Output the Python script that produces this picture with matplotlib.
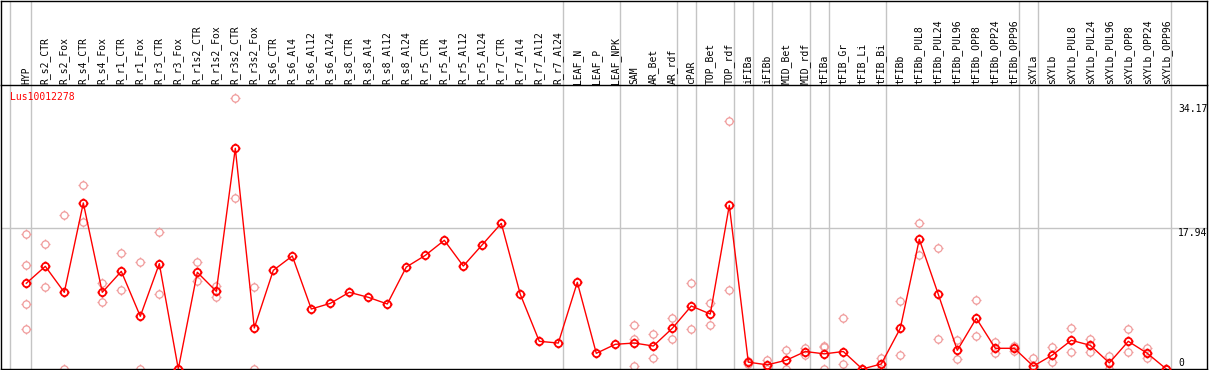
import matplotlib
matplotlib.use('Agg')
import matplotlib.pyplot as plt
from matplotlib.path import Path

# ---------------- data ----------------
categories = [
    "HYP",
    "R_s2_CTR", "R_s2_Fox", "R_s4_CTR", "R_s4_Fox", "R_r1_CTR", "R_r1_Fox",
    "R_r3_CTR", "R_r3_Fox", "R_r1s2_CTR", "R_r1s2_Fox", "R_r3s2_CTR", "R_r3s2_Fox",
    "R_s6_CTR", "R_s6_Al4", "R_s6_Al12", "R_s6_Al24",
    "R_s8_CTR", "R_s8_Al4", "R_s8_Al12", "R_s8_Al24",
    "R_r5_CTR", "R_r5_Al4", "R_r5_Al12", "R_r5_Al24",
    "R_r7_CTR", "R_r7_Al4", "R_r7_Al12", "R_r7_Al24",
    "LEAF_N", "LEAF_P", "LEAF_NPK",
    "SAM", "AR_Bet", "AR_rdf", "cPAR", "TOP_Bet", "TOP_rdf",
    "iFIBa", "iFIBb", "MID_Bet", "MID_rdf",
    "tFIBa", "tFIB_Gr", "tFIB_Li", "tFIB_Bi", "tFIBb",
    "tFIBb_PUL8", "tFIBb_PUL24", "tFIBb_PUL96", "tFIBb_OPP8", "tFIBb_OPP24", "tFIBb_OPP96",
    "sXYLa", "sXYLb",
    "sXYLb_PUL8", "sXYLb_PUL24", "sXYLb_PUL96", "sXYLb_OPP8", "sXYLb_OPP24", "sXYLb_OPP96",
]

means = [
    10.93, 13.09, 9.78, 21.17, 9.78, 12.45, 6.72, 13.43, 0.0, 12.33,
    9.90, 28.14, 5.23, 12.58, 14.41, 7.65, 8.37, 9.78, 9.14, 8.29,
    13.00, 14.49, 16.41, 13.13, 15.85, 18.57, 9.52, 3.53, 3.31, 11.05,
    2.00, 3.15, 3.31, 2.93, 5.19, 8.03, 7.01, 20.87, 0.87, 0.53,
    1.12, 2.23, 1.93, 2.23, 0.0, 0.64, 5.19, 16.54, 9.52, 2.38,
    6.46, 2.64, 2.64, 0.36, 1.77, 3.66, 3.02, 0.78, 3.53, 2.00,
    0.0,
]

replicates = [
    [17.17, 13.26, 8.25, 5.06], [15.90, 10.42], [19.60, 0.0], [23.42, 18.78],
    [10.93, 8.50], [14.75, 10.03], [13.60, 0.0], [17.43, 9.52], [0.0, 0.0],
    [13.60, 11.18], [10.62, 9.22], [34.51, 21.76], [10.42, 0.0],
    [], [], [], [], [], [], [], [], [], [], [], [], [], [], [], [], [], [], [],
    [5.61, 3.82, 0.38], [4.42, 1.44], [6.46, 3.78], [10.93, 5.06], [8.42, 5.57],
    [31.66, 10.03], [1.06, 0.64], [1.15, 0.0], [2.38, 0.0], [2.72, 1.79],
    [2.93, 2.80, 0.0], [6.46, 0.60], [0.0, 0.0], [1.44, 0.0], [8.63, 1.80],
    [18.57, 14.49], [15.38, 3.78], [3.66, 1.23], [8.76, 4.17], [3.40, 2.00],
    [2.89, 2.34], [1.44, 0.0], [2.85, 0.85], [5.27, 2.21], [3.78, 2.13],
    [1.66, 0.0], [5.06, 2.21], [2.64, 1.44], [0.0, 0.0],
]

group_ends = [0, 28, 31, 34, 35, 37, 38, 39, 41, 42, 45, 52, 53, 60]
gene_name = "Lus10012278"
ytick_values = [34.17, 17.94, 0]
ytick_labels = ["34.17", "17.94", "0"]

# ---------------- layout ----------------
W, H = 1209, 370
fig = plt.figure(figsize=(W / 100, H / 100), dpi=100)
fig.patch.set_facecolor('white')

sep_y = 85          # pixel row of the header separator
bot_y = 369         # pixel row of the value 0
x0_px, dx_px = 26.3, 19.0
left_px, right_px = 1.0, 1207.0
xmin = (left_px - x0_px) / dx_px
xmax = (right_px - x0_px) / dx_px
px_per_unit = (bot_y - 228.3) / 17.94
ymax = (bot_y - sep_y) / px_per_unit

ax = fig.add_axes([left_px / W, (H - bot_y) / H, (right_px - left_px) / W, (bot_y - sep_y) / H])
hx = fig.add_axes([left_px / W, (H - sep_y) / H, (right_px - left_px) / W, (sep_y - 0.5) / H])

FONT = 'DejaVu Sans Mono'
FS = 7
grey = '#c4c4c4'
red = '#ff0000'
pink = '#f09c9c'

for a in (ax, hx):
    a.set_xlim(xmin, xmax)
    a.set_xticks([])
    a.set_yticks([])
    for s in a.spines.values():
        s.set_color('black')
        s.set_linewidth(1.0)
ax.set_ylim(0, ymax)
hx.set_ylim(sep_y, 0)
ax.spines['top'].set_visible(False)

# separators
seps = [-0.86] + [g + 0.23 for g in group_ends]
for a in (ax, hx):
    for s in seps:
        a.axvline(s, color=grey, lw=1.0, zorder=0)
ax.axhline(17.94, color=grey, lw=1.0, zorder=0)

# header labels
for i, name in enumerate(categories):
    hx.text(i, sep_y - 1.5, name, rotation=90, ha='center', va='bottom',
            fontsize=FS, family=FONT, color='black')

# marker: circle with four small ticks
circ = Path.unit_circle()
tk = 1.38
tick_verts = [(0, 1), (0, tk), (0, -1), (0, -tk), (1, 0), (tk, 0), (-1, 0), (-tk, 0)]
tick_codes = [Path.MOVETO, Path.LINETO] * 4
marker = Path.make_compound_path(circ, Path(tick_verts, tick_codes))
MS = 7.2

# replicates
rx, ry = [], []
for i, reps in enumerate(replicates):
    for v in reps:
        rx.append(i)
        ry.append(v)
ax.plot(rx, ry, linestyle='none', marker=marker, markersize=MS,
        markerfacecolor='none', markeredgecolor=pink, markeredgewidth=0.9, zorder=2)

# mean line
ax.plot(range(len(means)), means, color=red, lw=1.0, zorder=3)
ax.plot(range(len(means)), means, linestyle='none', marker=marker, markersize=MS,
        markerfacecolor='none', markeredgecolor=red, markeredgewidth=1.3, zorder=4)

# gene name
ax.text((10 - left_px) / (right_px - left_px), (bot_y - 97) / (bot_y - sep_y), gene_name,
        transform=ax.transAxes, ha='left', va='center', fontsize=FS, family=FONT, color=red)

# y value labels on the right
tr = ax.get_yaxis_transform()
xl = (1178 - left_px) / (right_px - left_px)
ax.text(xl, ytick_values[0] - 0.35, ytick_labels[0], transform=tr, ha='left', va='top',
        fontsize=FS, family=FONT, color='black')
ax.text(xl, ytick_values[1], ytick_labels[1], transform=tr, ha='left', va='top',
        fontsize=FS, family=FONT, color='black')
ax.text(xl, ytick_values[2] + 0.38, ytick_labels[2], transform=tr, ha='left', va='baseline',
        fontsize=FS, family=FONT, color='black')

fig.savefig('out.png', dpi=100, facecolor='white')
